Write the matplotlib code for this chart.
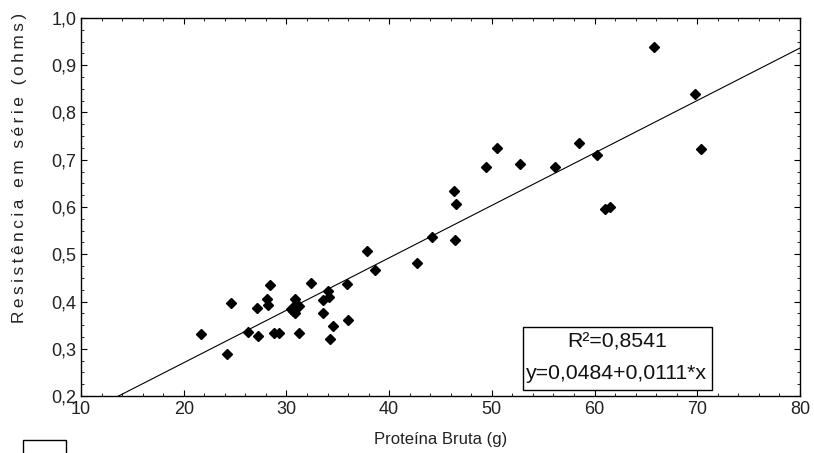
import numpy as np
import matplotlib
matplotlib.use("Agg")
from matplotlib import pyplot as plt
from matplotlib.ticker import MultipleLocator, FuncFormatter
from matplotlib.patches import Rectangle

plt.rcParams['font.family'] = ['Liberation Sans', 'DejaVu Sans']

# Proteina bruta (g) vs resistencia em serie (ohms)
proteina = [21.7, 24.2, 24.6, 26.3, 27.1, 27.2, 28.1, 28.2, 28.4, 28.8,
            29.3, 30.4, 30.6, 30.8, 30.9, 30.8, 31.2, 31.2, 32.4, 33.6,
            33.6, 34.0, 34.1, 34.2, 34.5, 35.9, 36.0, 37.8, 38.6, 42.7,
            44.2, 46.3, 46.5, 46.4, 49.4, 50.5, 52.7, 56.1, 58.5, 60.2,
            61.0, 61.5, 65.8, 69.8, 70.4]
resistencia = [0.331, 0.289, 0.396, 0.336, 0.387, 0.328, 0.405, 0.392, 0.435, 0.334,
               0.334, 0.384, 0.380, 0.405, 0.395, 0.375, 0.391, 0.334, 0.440, 0.403,
               0.376, 0.422, 0.409, 0.321, 0.348, 0.436, 0.361, 0.507, 0.466, 0.481,
               0.537, 0.633, 0.607, 0.530, 0.685, 0.724, 0.690, 0.685, 0.735, 0.710,
               0.595, 0.600, 0.938, 0.839, 0.722]

# regression shown in the box
a, b = 0.0484, 0.0111
r2_text = "R²=0,8541"
eq_text = "y=0,0484+0,0111*x"
ylabel = "Resistência em série (ohms)"

fig = plt.figure(figsize=(8.14, 4.53), dpi=100)
ax = fig.add_axes([0.0995, 0.1258, 0.8833, 0.8345])

xs = np.linspace(10, 80, 200)
ax.plot(xs, a + b * xs, color='black', lw=0.8)
ax.plot(proteina, resistencia, 'D', color='black', ms=5, mec='black')

ax.set_xlim(10, 80)
ax.set_ylim(0.2, 1.0)
ax.xaxis.set_major_locator(MultipleLocator(10))
ax.xaxis.set_minor_locator(MultipleLocator(2))
ax.yaxis.set_major_locator(MultipleLocator(0.1))
ax.yaxis.set_minor_locator(MultipleLocator(0.025))
ax.yaxis.set_major_formatter(FuncFormatter(lambda v, p: f"{v:.1f}".replace('.', ',')))
ax.tick_params(which='both', direction='in', top=True, right=True, colors='black',
               labelcolor='#222222', labelsize=13)
ax.tick_params(which='major', length=4)
ax.tick_params(which='minor', length=2)
for s in ax.spines.values():
    s.set_linewidth(1.0)

ax.set_xlabel("Proteína Bruta (g)", fontsize=12, color='#222222', labelpad=10)

# letter-spaced y label like the original
spaced = "\u2009".join(ylabel)
fig.text(0.024, 0.629, spaced, rotation=90, ha='center', va='center',
         fontsize=12.4, color='#222222')

# regression box
ax.add_patch(Rectangle((0.6147, 0.0159), 0.2629, 0.1666, transform=ax.transAxes,
                       fc='white', ec='black', lw=1.0, zorder=5))
ax.text(0.745, 0.1429, r2_text, transform=ax.transAxes, ha='center', va='center',
        fontsize=15.3, color='#111111', zorder=6)
ax.text(0.745, 0.0608, eq_text, transform=ax.transAxes, ha='center', va='center',
        fontsize=15.3, color='#111111', zorder=6)

fig.patches.append(Rectangle((23 / 814, -0.01), 43 / 814, 1 - 440 / 453 + 0.01,
                             transform=fig.transFigure, fill=False, ec='black', lw=1.0))

fig.savefig("out.png", dpi=100)
